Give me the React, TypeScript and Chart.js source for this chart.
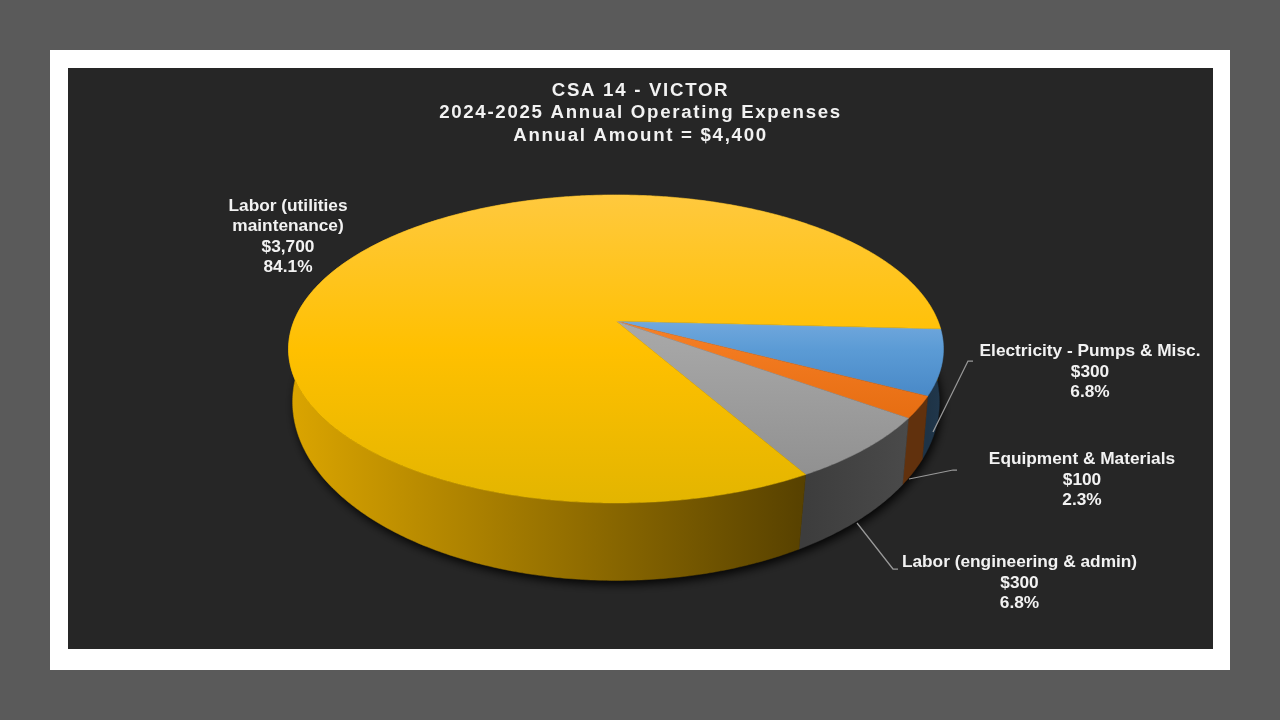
import React, { useEffect, useRef } from "react";
import { Chart, registerables } from "chart.js";

Chart.register(...registerables);

// ---- data ----
const categories = [
  "Electricity - Pumps & Misc.",
  "Equipment & Materials",
  "Labor (engineering & admin)",
  "Labor (utilities maintenance)",
];
const amounts = [300, 100, 300, 3700];
const sliceColors = ["#5B9BD5", "#F27A20", "#A5A5A5", "#FFC000"];
const faceTopColors = ["#D1E0FF", "#FFA050", "#B8B8B8", "#FFC93E"];
const faceBottomColors = ["#1F5FA8", "#D85E00", "#8C8C8C", "#E3B500"];
const titleLines = [
  "CSA 14 - VICTOR",
  "2024-2025 Annual Operating Expenses",
  "Annual Amount = $4,400",
];

// ---- styling tables ----
const labelLines = [
  [categories[0]],
  [categories[1]],
  [categories[2]],
  ["Labor (utilities", "maintenance)"],
];
// label block centre x / first line middle y, canvas coordinates
const labelAnchors = [
  [1022, 283.5],
  [1014, 391.5],
  [951.5, 494.5],
  [220, 138],
];
const leaderPaths = [
  [[865, 364], [900, 293], [905, 293]],
  [[841, 411], [885, 402], [889, 402]],
  [[789, 455], [825, 501], [830, 501]],
];
// wall brightness, left to right, for each slice
const wallShades = [
  [0.33, 0.36],
  [0.4, 0.4],
  [0.37, 0.45],
  [0.86, 0.34],
];

// perspective model of the disc (canvas coordinates)
const CX = 548;
const K = 0.1818;
const BOTTOM_TWIST = 0.014;
const topPlane = { cy: 253, rx: 322, ry: 148.9 };
const bottomPlane = { cy: 301.5, rx: 318, ry: 172.6 };
const FACE_TOP = 127;
const FACE_MID = 282;
const FACE_BOTTOM = 435;

type Plane = { cy: number; rx: number; ry: number };

function project(p: Plane, a: number): [number, number] {
  const u = Math.cos(a);
  const v = Math.sin(a);
  const w = 1 - K * v;
  return [CX + (p.rx * u) / w, p.cy + (p.ry * v) / w];
}

function rimPoints(p: Plane, a0: number, a1: number): [number, number][] {
  const n = Math.max(4, Math.ceil(Math.abs(a1 - a0) / 0.01));
  const pts: [number, number][] = [];
  for (let i = 0; i <= n; i++) pts.push(project(p, a0 + ((a1 - a0) * i) / n));
  return pts;
}

function hexRgb(h: string): number[] {
  return [1, 3, 5].map((i) => parseInt(h.slice(i, i + 2), 16));
}
function scale(h: string, f: number): string {
  const c = hexRgb(h).map((x) => Math.round(x * f));
  return `rgb(${c[0]},${c[1]},${c[2]})`;
}

const pie3d = {
  id: "pie3d",
  beforeDraw(chart: any) {
    chart.ctx.letterSpacing = "1.7px";
  },
  beforeDatasetsDraw(chart: any) {
    chart.ctx.letterSpacing = "0px";
  },
  beforeDatasetDraw(chart: any) {
    const ctx: CanvasRenderingContext2D = chart.ctx;
    const arcs = chart.getDatasetMeta(0).data;
    const colors: string[] = chart.data.datasets[0].backgroundColor;

    // drop shadow of the base
    ctx.save();
    ctx.shadowColor = "rgba(0,0,0,0.9)";
    ctx.shadowBlur = 10;
    ctx.shadowOffsetX = 2;
    ctx.shadowOffsetY = 4;
    ctx.fillStyle = "#000";
    ctx.beginPath();
    rimPoints(bottomPlane, 0, Math.PI * 2).forEach(([x, y], i) =>
      i ? ctx.lineTo(x, y) : ctx.moveTo(x, y)
    );
    ctx.closePath();
    ctx.fill();
    ctx.restore();

    // side walls
    arcs.forEach((arc: any, i: number) => {
      const frontEnd = Math.min(arc.endAngle, Math.PI + 0.1);
      const top = rimPoints(topPlane, arc.startAngle, arc.endAngle);
      const bot = rimPoints(bottomPlane, arc.startAngle + BOTTOM_TWIST, arc.endAngle + BOTTOM_TWIST);
      const front = rimPoints(topPlane, arc.startAngle, frontEnd);
      const xs = front.map((p) => p[0]);
      const g = ctx.createLinearGradient(Math.min(...xs), 0, Math.max(...xs), 0);
      g.addColorStop(0, scale(colors[i], wallShades[i][0]));
      g.addColorStop(1, scale(colors[i], wallShades[i][1]));
      ctx.beginPath();
      top.forEach(([x, y], j) => (j ? ctx.lineTo(x, y) : ctx.moveTo(x, y)));
      bot.reverse().forEach(([x, y]) => ctx.lineTo(x, y));
      ctx.closePath();
      ctx.fillStyle = g;
      ctx.strokeStyle = g;
      ctx.lineWidth = 0.5;
      ctx.fill();
      ctx.stroke();
    });

    // top faces
    arcs.forEach((arc: any, i: number) => {
      const g = ctx.createLinearGradient(0, FACE_TOP, 0, FACE_BOTTOM);
      const mid = (FACE_MID - FACE_TOP) / (FACE_BOTTOM - FACE_TOP);
      g.addColorStop(0, faceTopColors[i]);
      g.addColorStop(mid, colors[i]);
      g.addColorStop(1, faceBottomColors[i]);
      ctx.beginPath();
      ctx.moveTo(CX, topPlane.cy);
      rimPoints(topPlane, arc.startAngle, arc.endAngle).forEach(([x, y]) => ctx.lineTo(x, y));
      ctx.closePath();
      ctx.fillStyle = g;
      ctx.strokeStyle = g;
      ctx.lineWidth = 0.5;
      ctx.fill();
      ctx.stroke();
    });
    return false;
  },
  afterDatasetsDraw(chart: any) {
    const ctx: CanvasRenderingContext2D = chart.ctx;
    const values: number[] = chart.data.datasets[0].data;
    const total = values.reduce((a, b) => a + b, 0);

    ctx.save();
    ctx.strokeStyle = "#999999";
    ctx.lineWidth = 1.25;
    leaderPaths.forEach((path) => {
      ctx.beginPath();
      path.forEach(([x, y], j) => (j ? ctx.lineTo(x, y) : ctx.moveTo(x, y)));
      ctx.stroke();
    });

    ctx.fillStyle = "#F2F2F2";
    ctx.font = 'bold 17.3px "Liberation Sans"';
    ctx.textAlign = "center";
    ctx.textBaseline = "middle";
    values.forEach((v, i) => {
      const lines = [
        ...labelLines[i],
        "$" + v.toLocaleString("en-US"),
        ((v / total) * 100).toFixed(1) + "%",
      ];
      lines.forEach((t, j) => {
        ctx.fillText(t, labelAnchors[i][0], labelAnchors[i][1] + j * 20.5);
      });
    });
    ctx.restore();
  },
};

export default function App() {
  const ref = useRef<HTMLCanvasElement>(null);
  useEffect(() => {
    const chart = new Chart(ref.current!, {
      type: "pie",
      data: {
        labels: categories,
        datasets: [{ data: amounts, backgroundColor: sliceColors, borderWidth: 0 }],
      },
      options: {
        responsive: false,
        animation: false,
        devicePixelRatio: 1,
        rotation: 93,
        plugins: {
          legend: { display: false },
          tooltip: { enabled: false },
          title: {
            display: true,
            text: titleLines,
            color: "#F2F2F2",
            font: { family: '"Liberation Sans"', size: 18.67, weight: "bold", lineHeight: 1.2 },
            padding: { top: 11.5, bottom: 10 },
          },
        },
      } as any,
      plugins: [pie3d as any],
    });
    return () => chart.destroy();
  }, []);

  return (
    <div style={{ position: "fixed", inset: 0, background: "#5A5A5A" }}>
      <div style={{ position: "absolute", left: 50, top: 50, width: 1180, height: 620, background: "#FFFFFF" }} />
      <canvas
        ref={ref}
        width={1145}
        height={581}
        style={{ position: "absolute", left: 68, top: 68, width: 1145, height: 581, background: "#262626" }}
      />
    </div>
  );
}
